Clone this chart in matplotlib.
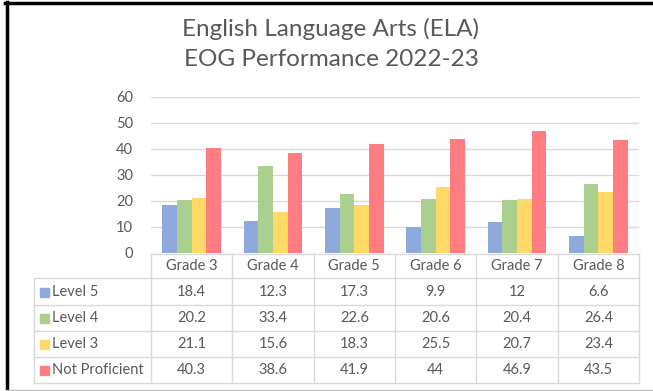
import numpy as np
import matplotlib
matplotlib.use("Agg")
import matplotlib.pyplot as plt
from matplotlib.patches import Rectangle

plt.rcParams['font.family'] = ['Lato', 'DejaVu Sans']

grades = ['Grade 3', 'Grade 4', 'Grade 5', 'Grade 6', 'Grade 7', 'Grade 8']
series = ['Level 5', 'Level 4', 'Level 3', 'Not Proficient']
level5 = [18.4, 12.3, 17.3, 9.9, 12, 6.6]
level4 = [20.2, 33.4, 22.6, 20.6, 20.4, 26.4]
level3 = [21.1, 15.6, 18.3, 25.5, 20.7, 23.4]
not_proficient = [40.3, 38.6, 41.9, 44, 46.9, 43.5]
yticks = [0, 10, 20, 30, 40, 50, 60]

values = [level5, level4, level3, not_proficient]
colors = ['#8EA9DB', '#A9D08E', '#FFD966', '#FF7C80']
text_col = '#595959'
grid_col = '#D9D9D9'

W, H = 653, 391
fig = plt.figure(figsize=(W / 100, H / 100), dpi=100)

# overlay in pixel coordinates for title, table and frame
ov = fig.add_axes([0, 0, 1, 1])
ov.set_xlim(0, W)
ov.set_ylim(H, 0)
ov.axis('off')

# plot area (pixels): x 151..639, y 97 (60) .. 253 (0)
x0, x1, ytop, ybot = 151, 639, 97, 253
ax = fig.add_axes([x0 / W, (H - ybot) / H, (x1 - x0) / W, (ybot - ytop) / H])
ax.set_xlim(-0.5, len(grades) - 0.5)
ax.set_ylim(0, 60)
ax.set_yticks(yticks)
ax.set_yticklabels([str(t) for t in yticks])
ax.tick_params(axis='y', length=0, pad=13, labelsize=10.5, labelcolor=text_col)
ax.set_xticks([])
for s in ax.spines.values():
    s.set_visible(False)
ax.grid(axis='y', color=grid_col, linewidth=1)
ax.set_axisbelow(True)

x = np.arange(len(grades))
bw = 0.18
for i, (vals, c) in enumerate(zip(values, colors)):
    ax.bar(x + (i - 1.5) * bw, vals, width=bw, color=c, edgecolor='none')

# data table below the bars
col_w = (x1 - x0) / len(grades)
label_left = 34
rows_y = [254, 278, 305, 331, 357, 383]
lc = grid_col
# header row
ov.plot([x0, x1], [rows_y[0], rows_y[0]], color=lc, lw=1)
for r in rows_y[1:]:
    ov.plot([label_left, x1], [r, r], color=lc, lw=1)
for i in range(len(grades) + 1):
    xx = x0 + i * col_w
    ov.plot([xx, xx], [rows_y[0], rows_y[-1]], color=lc, lw=1)
ov.plot([label_left, label_left], [rows_y[1], rows_y[-1]], color=lc, lw=1)

fs = 10.5
for i, g in enumerate(grades):
    cx = x0 + (i + 0.5) * col_w
    ov.text(cx, (rows_y[0] + rows_y[1]) / 2, g, ha='center', va='center',
            fontsize=fs, color=text_col)
    for j, vals in enumerate(values):
        cy = (rows_y[j + 1] + rows_y[j + 2]) / 2
        ov.text(cx, cy, f'{vals[i]:g}', ha='center', va='center',
                fontsize=fs, color=text_col)

for j, (name, c) in enumerate(zip(series, colors)):
    cy = (rows_y[j + 1] + rows_y[j + 2]) / 2
    ov.add_patch(Rectangle((40, cy - 4), 9, 9, color=c))
    ov.text(52, cy, name, ha='left', va='center', fontsize=fs, color=text_col)

# title
ov.text(331, 29, 'English Language Arts (ELA)', ha='center', va='center',
        fontsize=17.5, color=text_col)
ov.text(331, 59, 'EOG Performance 2022-23', ha='center', va='center',
        fontsize=17.5, color=text_col)

# outer frame
ov.plot([5, W], [2.5, 2.5], color='black', lw=2.5)
ov.plot([6.5, 6.5], [2, H], color='black', lw=2.5)
ov.plot([6, W], [H - 1, H - 1], color='#BFBFBF', lw=1)

fig.savefig('out.png', dpi=100)
